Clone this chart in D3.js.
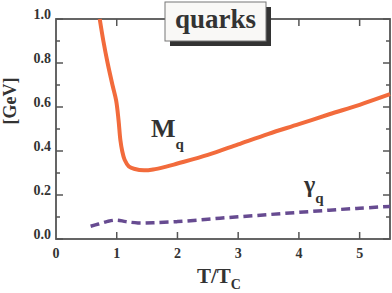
<!DOCTYPE html>
<html>
<head>
<meta charset="utf-8">
<script src="https://cdn.jsdelivr.net/npm/d3@7"></script>
<style>
  body { margin: 0; background: #fff; }
  text { font-family: "Liberation Serif", "Times New Roman", serif; font-weight: bold; fill: #333; }
</style>
</head>
<body>
<div id="chart"></div>
<script>
// effective quark mass M_q vs T/Tc
const massT = [0.72, 0.78, 0.85, 0.93, 0.99, 1.03, 1.06, 1.09, 1.13, 1.2, 1.3, 1.45, 1.6, 1.8, 2.0, 2.5, 3.0, 3.5, 4.0, 4.5, 5.0, 5.5];
const massV = [1.0, 0.9, 0.8, 0.7, 0.63, 0.54, 0.45, 0.40, 0.36, 0.33, 0.318, 0.312, 0.316, 0.328, 0.343, 0.382, 0.43, 0.478, 0.522, 0.567, 0.61, 0.658];

// width gamma_q vs T/Tc
const gammaT = [0.57, 0.7, 0.85, 1.0, 1.15, 1.35, 1.6, 2.0, 2.5, 3.0, 3.5, 4.0, 4.5, 5.0, 5.5];
const gammaV = [0.058, 0.068, 0.08, 0.086, 0.079, 0.073, 0.074, 0.079, 0.09, 0.101, 0.111, 0.121, 0.131, 0.14, 0.148];

const xTicks = [0, 1, 2, 3, 4, 5];
const yTicks = [0, 0.2, 0.4, 0.6, 0.8, 1.0];

const width = 392;
const height = 293;
const margin = { top: 19, right: 2, bottom: 54, left: 56 };

const svg = d3.select("#chart").append("svg")
  .attr("width", width)
  .attr("height", height);

const x = d3.scaleLinear()
  .domain([0, 5.5])
  .range([margin.left, width - margin.right]);

const y = d3.scaleLinear()
  .domain([0, 1])
  .range([height - margin.bottom, margin.top]);

const frameColor = "#555";

// inward ticks on all four sides
const yMinor = d3.range(0, 1.001, 0.1);
const xMajorIn = xTicks.filter(d => d > 0);

const ticks = svg.append("g").attr("stroke", frameColor).attr("stroke-width", 1.5);
yMinor.forEach((v, i) => {
  const len = i % 2 === 0 ? 7 : 4;
  ticks.append("line")
    .attr("x1", x(0)).attr("x2", x(0) + len)
    .attr("y1", y(v)).attr("y2", y(v));
  ticks.append("line")
    .attr("x1", x(5.5)).attr("x2", x(5.5) - len)
    .attr("y1", y(v)).attr("y2", y(v));
});
xMajorIn.forEach(v => {
  ticks.append("line")
    .attr("x1", x(v)).attr("x2", x(v))
    .attr("y1", y(0)).attr("y2", y(0) - 7);
  ticks.append("line")
    .attr("x1", x(v)).attr("x2", x(v))
    .attr("y1", y(1)).attr("y2", y(1) + 7);
});

// frame
svg.append("rect")
  .attr("x", x(0))
  .attr("y", y(1))
  .attr("width", x(5.5) - x(0))
  .attr("height", y(0) - y(1))
  .attr("fill", "none")
  .attr("stroke", frameColor)
  .attr("stroke-width", 1.8);

// tick labels
svg.append("g").selectAll("text")
  .data(yTicks)
  .join("text")
  .attr("x", x(0) - 5)
  .attr("y", d => y(d))
  .attr("text-anchor", "end")
  .style("font-size", "14px")
  .text(d => d3.format(".1f")(d));

svg.append("g").selectAll("text")
  .data(xTicks)
  .join("text")
  .attr("x", d => x(d))
  .attr("y", y(0) + 19)
  .attr("text-anchor", "middle")
  .style("font-size", "14px")
  .text(d => d);

// axis titles
svg.append("text")
  .attr("transform", `translate(16,101) rotate(-90)`)
  .attr("text-anchor", "middle")
  .style("font-size", "18px")
  .text("[GeV]");

const xt = svg.append("text")
  .attr("x", 197)
  .attr("y", 283)
  .style("font-size", "21px");
xt.append("tspan").text("T/T");
xt.append("tspan").attr("dy", 6).style("font-size", "14px").text("C");

// curves
const line = d3.line()
  .x(d => x(d[0]))
  .y(d => y(d[1]))
  .curve(d3.curveCatmullRom.alpha(0.5));

svg.append("path")
  .datum(d3.zip(gammaT, gammaV))
  .attr("fill", "none")
  .attr("stroke", "#674b91")
  .attr("stroke-width", 3.5)
  .attr("stroke-dasharray", "9,5")
  .attr("d", line);

svg.append("path")
  .datum(d3.zip(massT, massV))
  .attr("fill", "none")
  .attr("stroke", "#f26b3c")
  .attr("stroke-width", 4)
  .attr("d", line);

// curve labels
const ml = svg.append("text")
  .attr("x", 151)
  .attr("y", 137)
  .style("font-size", "26px");
ml.append("tspan").text("M");
ml.append("tspan").attr("dy", 12).style("font-size", "15px").text("q");

const gl = svg.append("text")
  .attr("x", 304)
  .attr("y", 192)
  .style("font-size", "24px");
gl.append("tspan").text("γ");
gl.append("tspan").attr("dy", 11).style("font-size", "15px").text("q");

// title box with shadow
const box = { x: 165, y: 2, w: 101, h: 39 };
svg.append("rect")
  .attr("x", box.x + 5).attr("y", box.y + 5)
  .attr("width", box.w).attr("height", box.h)
  .attr("fill", "#333");
svg.append("rect")
  .attr("x", box.x).attr("y", box.y)
  .attr("width", box.w).attr("height", box.h)
  .attr("fill", "#f9f8f6")
  .attr("stroke", "#777")
  .attr("stroke-width", 1);
svg.append("text")
  .attr("x", box.x + box.w / 2)
  .attr("y", 28)
  .attr("text-anchor", "middle")
  .style("font-size", "27px")
  .text("quarks");
</script>
</body>
</html>
